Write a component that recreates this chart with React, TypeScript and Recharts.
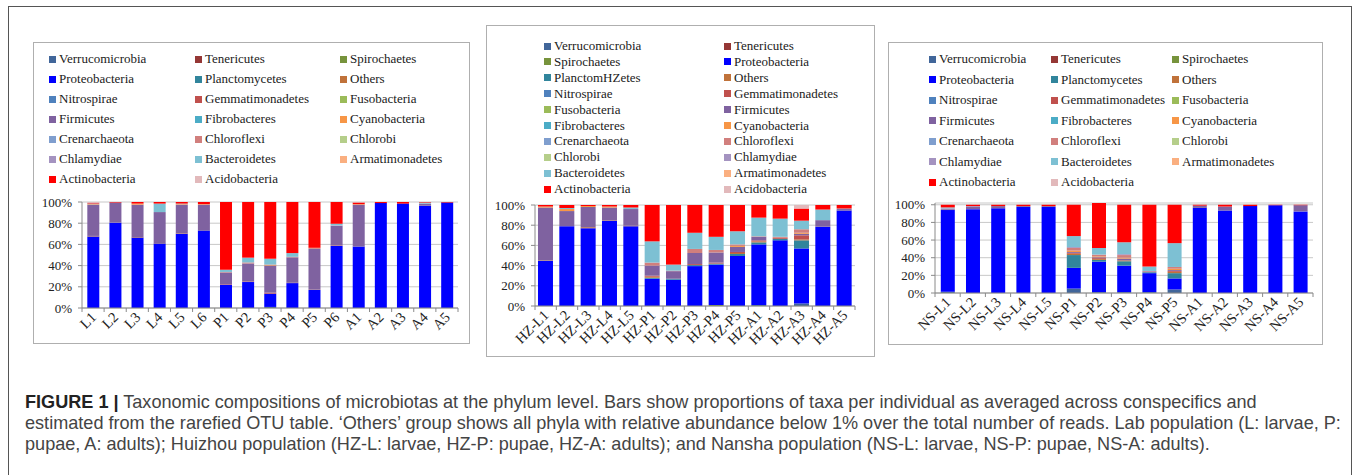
import React from 'react';
import { BarChart, Bar, XAxis, YAxis, CartesianGrid } from 'recharts';

// stacking order, bottom to top (also the legend reading order)
const TAXA = [
  'Verrucomicrobia', 'Tenericutes', 'Spirochaetes', 'Proteobacteria', 'Planctomycetes',
  'Others', 'Nitrospirae', 'Gemmatimonadetes', 'Fusobacteria', 'Firmicutes',
  'Fibrobacteres', 'Cyanobacteria', 'Crenarchaeota', 'Chloroflexi', 'Chlorobi',
  'Chlamydiae', 'Bacteroidetes', 'Armatimonadetes', 'Actinobacteria', 'Acidobacteria',
];

const COLORS: Record<string, string> = {
  Verrucomicrobia: '#41669A',
  Tenericutes: '#953735',
  Spirochaetes: '#77933C',
  Proteobacteria: '#0000FF',
  Planctomycetes: '#31859C',
  Others: '#C0723A',
  Nitrospirae: '#4F81BD',
  Gemmatimonadetes: '#C0504D',
  Fusobacteria: '#9BBB59',
  Firmicutes: '#7F62A0',
  Fibrobacteres: '#4BACC6',
  Cyanobacteria: '#F79646',
  Crenarchaeota: '#7F9ECE',
  Chloroflexi: '#D17F7D',
  Chlorobi: '#B5CE8A',
  Chlamydiae: '#A493C0',
  Bacteroidetes: '#7DC0D3',
  Armatimonadetes: '#FAAF80',
  Actinobacteria: '#FF0000',
  Acidobacteria: '#E2B9BB',
};

// ---- Lab population ----
const labLabels = ['L1', 'L2', 'L3', 'L4', 'L5', 'L6', 'P1', 'P2', 'P3', 'P4', 'P5', 'P6', 'A1', 'A2', 'A3', 'A4', 'A5'];
const labVerrucomicrobia = [0, 0, 0, 0, 0, 0, 0, 0, 1, 0, 0, 0, 0, 0, 0, 0, 0];
const labProteobacteria = [67.5, 80.5, 66.5, 60.5, 70, 73, 22, 24.5, 12.5, 23.5, 17, 58.5, 58, 99, 98.5, 96.5, 99.5];
const labOthers = [0.5, 0, 0.5, 0, 0.5, 0, 0, 0, 0, 0, 0, 0, 0, 0, 0, 0, 0];
const labGemmatimonadetes = [0, 0, 0, 0, 0, 0, 0.5, 0.5, 1, 0.3, 0.3, 0.5, 0, 0, 0, 0, 0];
const labFirmicutes = [29.5, 19, 30.5, 30, 27, 24.5, 11, 17, 25.5, 24, 38.5, 18.5, 39.5, 0, 0, 2, 0];
const labCyanobacteria = [0.5, 0, 1, 0, 0.5, 0.5, 0, 0, 0.5, 0, 0, 0, 0.5, 0, 0, 0, 0];
const labChloroflexi = [0, 0, 0, 0, 0, 0, 0.5, 1, 0.5, 0.5, 1, 0, 0, 0, 0, 0, 0];
const labChlamydiae = [0, 0, 0, 0, 0, 0, 0, 0, 0, 0, 0, 0.5, 0, 0, 0, 0, 0];
const labBacteroidetes = [0.5, 0, 0, 8, 0.5, 0, 2, 4.5, 5.5, 3.5, 0, 1.5, 0, 0, 0, 1, 0];
const labActinobacteria = [0.5, 0.5, 1.5, 1.5, 1.5, 2, 64, 52.5, 53.5, 48.2, 43.2, 20.5, 1.5, 1, 1.5, 0.5, 0.5];
const labAcidobacteria = [1, 0, 0, 0, 0, 0, 0, 0, 0, 0, 0, 0, 0.5, 0, 0, 0, 0];

// ---- Huizhou population ----
const hzLabels = ['HZ-L1', 'HZ-L2', 'HZ-L3', 'HZ-L4', 'HZ-L5', 'HZ-P1', 'HZ-P2', 'HZ-P3', 'HZ-P4', 'HZ-P5', 'HZ-A1', 'HZ-A2', 'HZ-A3', 'HZ-A4', 'HZ-A5'];
const hzVerrucomicrobia = [0, 0, 0, 0, 0, 0, 0, 0, 0, 0, 1, 0, 2.5, 0, 0];
const hzSpirochaetes = [0, 0, 0, 0, 0, 0, 0, 0, 1, 0, 0, 0, 0, 0, 0];
const hzProteobacteria = [44.5, 79, 77, 84.5, 79, 27, 26, 39.5, 40, 49.5, 60, 65, 54.5, 78.5, 94.5];
const hzPlanctomycetes = [0, 0, 0, 0, 0, 1, 1, 1, 1, 2, 2, 1.5, 8, 0, 0];
const hzOthers = [0.5, 0, 1, 0.5, 0.5, 1, 0, 0, 0, 1, 1, 0, 1, 0, 0];
const hzGemmatimonadetes = [0, 0, 0, 0, 0, 1, 0, 1, 1, 1, 1, 1, 4, 0, 0];
const hzFirmicutes = [52.5, 15, 20, 12.5, 16.5, 10, 7.5, 11, 10, 5, 3.5, 0, 1.5, 6.5, 1.5];
const hzCyanobacteria = [1, 2, 1, 1, 0, 0, 0, 0, 0, 1, 0, 0, 1, 0, 0];
const hzChloroflexi = [0, 0, 0, 0, 0, 3, 0.5, 4, 2.5, 1.5, 0.5, 1, 3.5, 0, 0];
const hzBacteroidetes = [0, 1, 0, 0, 1.5, 21, 6, 16, 13, 13, 18.5, 18, 8.5, 10.5, 0.5];
const hzActinobacteria = [1.5, 3, 1, 1.5, 2.5, 36, 59, 27.5, 31.5, 26, 12.5, 13.5, 12, 4.5, 3.5];
const hzAcidobacteria = [0, 0, 0, 0, 0, 0, 0, 0, 0, 0, 0, 0, 3.5, 0, 0];

// ---- Nansha population ----
const nsLabels = ['NS-L1', 'NS-L2', 'NS-L3', 'NS-L4', 'NS-L5', 'NS-P1', 'NS-P2', 'NS-P3', 'NS-P4', 'NS-P5', 'NS-A1', 'NS-A2', 'NS-A3', 'NS-A4', 'NS-A5'];
const nsVerrucomicrobia = [1.5, 0, 0, 0, 0, 5, 1, 1, 1, 4, 0, 0, 0, 0, 0];
const nsProteobacteria = [92.5, 95, 96, 97.5, 97.5, 23.5, 34.5, 30, 21.5, 12.5, 96.5, 93.5, 98.5, 99.5, 92.5];
const nsPlanctomycetes = [0, 0, 0, 0, 0, 14.5, 2, 5, 1, 6, 0, 0, 0, 0, 0];
const nsOthers = [0, 0, 0, 0, 0, 1.5, 1, 1, 0, 1.5, 0, 0, 0, 0, 0];
const nsGemmatimonadetes = [0, 0, 0, 0, 0, 1, 1, 0, 0, 1, 0, 0, 0, 0, 0];
const nsFirmicutes = [1, 2.5, 2.5, 1, 1, 1, 1, 2, 1, 1, 2.5, 4.5, 0, 0, 7];
const nsCyanobacteria = [0, 0, 0, 0, 0, 1.5, 1, 1, 0, 1.5, 0, 0, 0, 0, 0];
const nsChloroflexi = [0, 0, 0, 0, 0, 3, 2, 3, 0.5, 2, 0, 0, 0, 0, 0];
const nsChlamydiae = [1, 1, 0, 0, 0, 1, 0, 1, 0, 0, 0, 0, 0, 0, 0];
const nsBacteroidetes = [1, 0, 0, 0, 0, 12.5, 7.5, 13.5, 5, 27, 0, 0, 0, 0, 0];
const nsActinobacteria = [3, 1.5, 1.5, 1.5, 1.5, 35.5, 51, 42.5, 70, 43.5, 1, 2, 1.5, 0.5, 0.5];

const yTicks = [0, 20, 40, 60, 80, 100];

type Series = Record<string, number[]>;

const labSeries: Series = {
  Verrucomicrobia: labVerrucomicrobia, Proteobacteria: labProteobacteria, Others: labOthers,
  Gemmatimonadetes: labGemmatimonadetes, Firmicutes: labFirmicutes, Cyanobacteria: labCyanobacteria,
  Chloroflexi: labChloroflexi, Chlamydiae: labChlamydiae, Bacteroidetes: labBacteroidetes,
  Actinobacteria: labActinobacteria, Acidobacteria: labAcidobacteria,
};
const hzSeries: Series = {
  Verrucomicrobia: hzVerrucomicrobia, Spirochaetes: hzSpirochaetes, Proteobacteria: hzProteobacteria,
  Planctomycetes: hzPlanctomycetes, Others: hzOthers, Gemmatimonadetes: hzGemmatimonadetes,
  Firmicutes: hzFirmicutes, Cyanobacteria: hzCyanobacteria, Chloroflexi: hzChloroflexi,
  Bacteroidetes: hzBacteroidetes, Actinobacteria: hzActinobacteria, Acidobacteria: hzAcidobacteria,
};
const nsSeries: Series = {
  Verrucomicrobia: nsVerrucomicrobia, Proteobacteria: nsProteobacteria, Planctomycetes: nsPlanctomycetes,
  Others: nsOthers, Gemmatimonadetes: nsGemmatimonadetes, Firmicutes: nsFirmicutes,
  Cyanobacteria: nsCyanobacteria, Chloroflexi: nsChloroflexi, Chlamydiae: nsChlamydiae,
  Bacteroidetes: nsBacteroidetes, Actinobacteria: nsActinobacteria,
};

const buildRows = (labels: string[], series: Series) =>
  labels.map((name, i) => {
    const row: Record<string, string | number> = { name };
    TAXA.forEach((t) => {
      row[t] = series[t] ? series[t][i] : 0;
    });
    return row;
  });

const SERIF = '"Liberation Serif", "Times New Roman", serif';
const AXIS = '#8A8A8A';
const GRID = '#C8C8C8';

const makeXTick = (band: number, count: number, fontSize: number) => (props: any) => {
  const { x, y, payload } = props;
  const index = props.index ?? payload.index;
  const tx = x + 4;
  const ty = y + 10;
  return (
    <g>
      <line x1={x - band / 2} x2={x - band / 2} y1={y} y2={y + 4} stroke={AXIS} />
      {index === count - 1 && (
        <line x1={x + band / 2} x2={x + band / 2} y1={y} y2={y + 4} stroke={AXIS} />
      )}
      <text
        x={tx}
        y={ty}
        textAnchor="end"
        fontSize={fontSize}
        fontFamily={SERIF}
        fill="#222"
        transform={`rotate(-45, ${tx}, ${ty})`}
      >
        {payload.value}
      </text>
    </g>
  );
};

interface PanelProps {
  box: { left: number; top: number; width: number; height: number };
  legend: { cols: number[]; rowTop: number; rowStep: number; rename?: Record<string, string> };
  chart: {
    left: number; top: number; width: number; height: number;
    margin: { top: number; right: number; bottom: number; left: number };
    yWidth: number; xHeight: number; gap: string;
  };
  labels: string[];
  series: Series;
}

const Panel = ({ box, legend, chart, labels, series }: PanelProps) => {
  const rows = buildRows(labels, series);
  const plotWidth = chart.width - chart.margin.left - chart.margin.right - chart.yWidth;
  const band = plotWidth / labels.length;
  const perRow = legend.cols.length;
  return (
    <>
      <div
        style={{
          position: 'absolute', left: box.left, top: box.top, width: box.width, height: box.height,
          border: '1px solid #AFAFAF', boxSizing: 'border-box', background: '#fff',
        }}
      />
      {TAXA.map((t, i) => (
        <div
          key={t}
          style={{
            position: 'absolute',
            left: legend.cols[i % perRow],
            top: legend.rowTop + Math.floor(i / perRow) * legend.rowStep - 8,
            height: 16, display: 'flex', alignItems: 'center', whiteSpace: 'nowrap',
            fontFamily: SERIF, fontSize: 13, color: '#1A1A1A',
          }}
        >
          <span style={{ width: 7, height: 7, background: COLORS[t], marginRight: 3, display: 'inline-block' }} />
          {legend.rename?.[t] ?? t}
        </div>
      ))}
      <div style={{ position: 'absolute', left: chart.left, top: chart.top }}>
        <BarChart
          width={chart.width}
          height={chart.height}
          data={rows}
          margin={chart.margin}
          barCategoryGap={chart.gap}
        >
          <CartesianGrid vertical={false} stroke={GRID} />
          <XAxis
            dataKey="name"
            interval={0}
            height={chart.xHeight}
            axisLine={{ stroke: AXIS }}
            tickLine={false}
            tickSize={0}
            tickMargin={0}
            tick={makeXTick(band, labels.length, 14.5)}
          />
          <YAxis
            width={chart.yWidth}
            domain={[0, 100]}
            ticks={yTicks}
            interval={0}
            tickFormatter={(v) => `${v}%`}
            axisLine={{ stroke: AXIS }}
            tickLine={{ stroke: AXIS }}
            tickSize={4}
            tickMargin={6}
            tick={{ fontSize: 13, fontFamily: SERIF, fill: '#222' }}
          />
          {TAXA.map((t) => (
            <Bar key={t} dataKey={t} stackId="a" fill={COLORS[t]} isAnimationActive={false} />
          ))}
        </BarChart>
      </div>
    </>
  );
};

const captionStyle: React.CSSProperties = {
  position: 'absolute', left: 25, top: 392, whiteSpace: 'pre',
  fontFamily: '"Liberation Sans", Arial, sans-serif', fontSize: 18.1, lineHeight: '21px', color: '#444',
};

const App = () => (
  <div style={{ position: 'absolute', left: 0, top: 0, width: 1360, height: 475, background: '#fff', overflow: 'hidden' }}>
    <div
      style={{
        position: 'absolute', left: 8, top: 6, width: 1344, height: 500,
        border: '1.5px solid #555', boxSizing: 'border-box',
      }}
    />
    <Panel
      box={{ left: 33, top: 42, width: 437, height: 302 }}
      legend={{ cols: [49, 195, 340], rowTop: 59, rowStep: 20 }}
      chart={{
        left: 33, top: 195, width: 437, height: 150,
        margin: { top: 7, right: 12, bottom: 0, left: 0 }, yWidth: 49, xHeight: 37, gap: '24%',
      }}
      labels={labLabels}
      series={labSeries}
    />
    <Panel
      box={{ left: 486, top: 25, width: 389, height: 332 }}
      legend={{ cols: [544, 724], rowTop: 46, rowStep: 15.9, rename: { Planctomycetes: 'PlanctomHZetes' } }}
      chart={{
        left: 486, top: 195, width: 389, height: 162,
        margin: { top: 10, right: 20, bottom: 0, left: 0 }, yWidth: 49, xHeight: 51, gap: '14%',
      }}
      labels={hzLabels}
      series={hzSeries}
    />
    <Panel
      box={{ left: 888, top: 42, width: 435, height: 303 }}
      legend={{ cols: [929, 1051, 1172], rowTop: 59, rowStep: 20.5 }}
      chart={{
        left: 888, top: 195, width: 435, height: 150,
        margin: { top: 8, right: 10, bottom: 0, left: 0 }, yWidth: 47, xHeight: 52, gap: '23%',
      }}
      labels={nsLabels}
      series={nsSeries}
    />
    <div style={captionStyle}>
      <span style={{ fontWeight: 'bold', color: '#222' }}>FIGURE 1 |</span>
      {' Taxonomic compositions of microbiotas at the phylum level. Bars show proportions of taxa per individual as averaged across conspecifics and\n'}
      {'estimated from the rarefied OTU table. \u2018Others\u2019 group shows all phyla with relative abundance below 1% over the total number of reads. Lab population (L: larvae, P:\n'}
      {'pupae, A: adults); Huizhou population (HZ-L: larvae, HZ-P: pupae, HZ-A: adults); and Nansha population (NS-L: larvae, NS-P: pupae, NS-A: adults).'}
    </div>
  </div>
);

export default App;
